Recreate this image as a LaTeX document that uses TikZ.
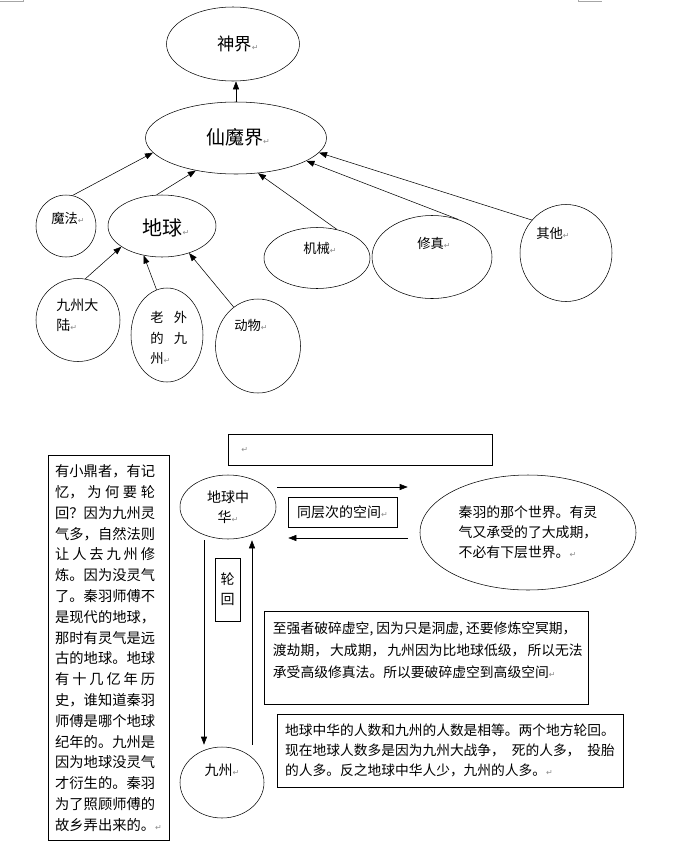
\documentclass[tikz,border=0pt]{standalone}
\usepackage{fontspec}
\setmainfont{Noto Sans CJK SC}
\newfontfamily\symfont{DejaVu Sans}
\usetikzlibrary{arrows.meta,shapes.geometric,calc}
\newcommand{\retmark}{{\symfont\color{black!45}\fontsize{6}{6}\selectfont ↵}}
\newcommand{\fline}[2][7em]{\makebox[#1][s]{#2}}
\tikzset{
  oval/.style 2 args={ellipse,draw,thin,inner sep=0pt,
              minimum width=#1,minimum height=#2},
  tbox/.style={rectangle,draw,thin,inner sep=0pt},
  lbl/.style={inner sep=0pt,align=left,font=\fontsize{#1}{15.2}\selectfont},
  lbl/.default=10,
  arr/.style={-{Triangle[length=6pt,width=4.5pt]},thin},
}
\begin{document}
\begin{tikzpicture}[x=0.75pt,y=-0.75pt]
  \useasboundingbox (0,0) rectangle (682,850);
  % page corner marks
  \draw[black!35,thin] (0,1) -- (23,1) -- (23,0);
  \draw[black!35,thin] (578,0) -- (578,1) -- (602,1);

  % upper tree
  \node[oval={99.75pt}{55.5pt}] (shenjie) at (233,44) {};
  \node[oval={135.75pt}{54pt}] (xianmo) at (236,138) {};
  \node[oval={45pt}{46.5pt}] (mofa) at (66,226) {};
  \node[oval={81pt}{46.5pt}] (diqiu) at (162,226) {};
  \node[oval={79.5pt}{45.75pt}] (jixie) at (317,258) {};
  \node[oval={90pt}{62.25pt}] (xiuzhen) at (432,257) {};
  \node[oval={69pt}{72.75pt}] (qita) at (566,253) {};
  \node[oval={63pt}{62.25pt}] (dalu) at (78,320) {};
  \node[oval={54pt}{70.5pt}] (laowai) at (167,335) {};
  \node[oval={63.75pt}{70.5pt}] (dongwu) at (258,346) {};

  \node[lbl=13] (t-shenjie) at (238,44) {神界\retmark};
  \node[lbl=14.25] (t-xianmo) at (238,137) {仙魔界\retmark};
  \node[lbl=15] (t-diqiu) at (166,228) {地球\retmark};
  \node[lbl] (t-mofa) at (68,218) {魔法\retmark};
  \node[lbl] (t-jixie) at (320,248) {机械\retmark};
  \node[lbl] (t-xiuzhen) at (434,243) {修真\retmark};
  \node[lbl] (t-qita) at (553,233) {其他\retmark};
  \node[lbl=10.5,anchor=west] (t-dalu) at (56,315) {九州大\\陆\retmark};
  \node[lbl,anchor=west] (t-laowai) at (150,338)
    {\fline[27.75pt]{老 外}\\\fline[27.75pt]{的 九}\\州\retmark};
  \node[lbl] (t-dongwu) at (251,325) {动物\retmark};

  \draw[arr] (xianmo.north) -- (xianmo.north |- shenjie.south);
  \draw[arr] (mofa.78) -- (xianmo.190);
  \draw[arr] (diqiu.100) -- (xianmo.219);
  \draw[arr] (jixie.55) -- (xianmo.302);
  \draw[arr] (xiuzhen.55) -- (xianmo.342);
  \draw[arr] (qita.136) -- (xianmo.350);
  \draw[arr] (dalu.80) -- (diqiu.207);
  \draw[arr] (laowai.103) -- (diqiu.238);
  \draw[arr] (dongwu.122) -- (diqiu.315);

  % lower part
  \node[tbox,minimum width=198pt,minimum height=23.25pt,inner xsep=10pt,
        text width=178pt,align=left] (blank) at (360,449.5) {\retmark};

  \node[tbox,minimum width=90.75pt,minimum height=288.75pt,align=left,
        font=\fontsize{10.7}{15.6}\selectfont] (shuoming) at (108.5,648) {%
    有小鼎者，有记\\
    \fline{忆， 为 何 要 轮}\\
    回？因为九州灵\\
    气多，自然法则\\
    \fline{让 人 去 九 州 修}\\
    炼。因为没灵气\\
    了。秦羽师傅不\\
    是现代的地球，\\
    那时有灵气是远\\
    古的地球。地球\\
    \fline{有 十 几 亿 年 历}\\
    史，谁知道秦羽\\
    师傅是哪个地球\\
    纪年的。九州是\\
    因为地球没灵气\\
    才衍生的。秦羽\\
    为了照顾师傅的\\
    故乡弄出来的。\retmark};

  \node[oval={72pt}{48pt},align=center,
        font=\fontsize{10.5}{15}\selectfont] (zhonghua) at (228,507)
    {地球中\\华\retmark};
  \node[oval={162pt}{86.25pt},align=left,
        font=\fontsize{10.4}{15}\selectfont] (qinyu) at (528,532.5)
    {秦羽的那个世界。有灵\\气又承受的了大成期，\\不必有下层世界。\retmark};
  \node[tbox,minimum width=81.75pt,minimum height=22.5pt,
        font=\fontsize{10.5}{15}\selectfont] (tongceng) at (342.5,512)
    {同层次的空间\retmark};
  \draw[arr] ($(zhonghua.east)+(1,-20)$) -- ($(qinyu.west)+(-12,-45.5)$);
  \draw[arr] ($(qinyu.west)+(-12,5.5)$) -- ($(zhonghua.east)+(12,31)$);

  \node[tbox,minimum width=18.75pt,minimum height=47.25pt,align=center,
        font=\fontsize{10.5}{15}\selectfont] (lunhui) at (227.5,589.5) {轮\\回};

  \node[oval={63pt}{53.25pt}] (jiuzhou) at (222,782.5) {};
  \node[lbl=10.5] (t-jiuzhou) at (222,770) {九州\retmark};
  \draw[arr] ($(zhonghua.south)+(-24,1)$) -- ($(jiuzhou.north)+(-18,-2)$);
  \draw[arr] ($(jiuzhou.north)+(30,-2)$) -- ($(zhonghua.south)+(24,1)$);

  \node[tbox,anchor=north west,minimum width=243pt,minimum height=69.75pt,
        font=\fontsize{10.35}{16.5}\selectfont] (zhiqiang) at (264,611)
    {\parbox[c][69.75pt][t]{230pt}{\vspace*{8pt}%
      \fline[22em]{至强者破碎虚空, 因为只是洞虚, 还要修炼空冥期，}\\
      \fline[22em]{渡劫期， 大成期， 九州因为比地球低级， 所以无法}\\
      承受高级修真法。所以要破碎虚空到高级空间\retmark}};

  \node[tbox,minimum width=259.5pt,minimum height=54.75pt,align=left,
        font=\fontsize{10.3}{15}\selectfont] (renshu) at (450,750.5)
    {地球中华的人数和九州的人数是相等。两个地方轮回。\\
     \fline[24em]{现在地球人数多是因为九州大战争， 死的人多， 投胎}\\
     的人多。反之地球中华人少，九州的人多。\retmark};
\end{tikzpicture}
\end{document}
